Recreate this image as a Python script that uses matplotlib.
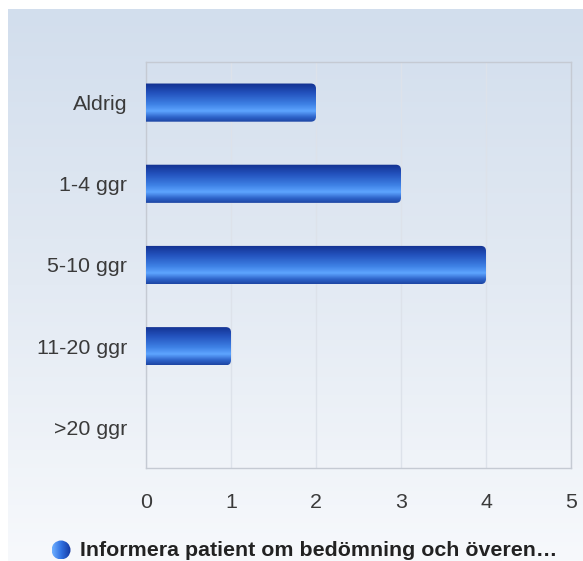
import numpy as np
import matplotlib
matplotlib.use("Agg")
import matplotlib.pyplot as plt
from matplotlib.patches import FancyBboxPatch, Circle
from matplotlib.colors import LinearSegmentedColormap

categories = ["Aldrig", "1-4 ggr", "5-10 ggr", "11-20 ggr", ">20 ggr"]
values = [2, 3, 4, 1, 0]
xticks = [0, 1, 2, 3, 4, 5]
legend_label = "Informera patient om bedömning och överen…"

plt.rcParams['font.family'] = ['Liberation Sans', 'DejaVu Sans']

W, H = 583, 561
fig = plt.figure(figsize=(W / 100, H / 100), dpi=100)

# background gradient panel
bg = fig.add_axes([0, 0, 1, 1], zorder=-10)
bg.set_xlim(0, W)
bg.set_ylim(H, 0)
bg.axis('off')
bgcmap = LinearSegmentedColormap.from_list('bg', ['#d2deed', '#e3eaf3', '#f7f9fc'])
grad = np.linspace(0, 1, 256).reshape(-1, 1)
bg.imshow(grad, cmap=bgcmap, extent=[8, W, H, 9], aspect='auto')

# legend sphere marker (gradient circle)
sphcmap = LinearSegmentedColormap.from_list('sph', ['#6fb0ff', '#2f6fe0', '#1538a0'])
hgrad = np.linspace(0, 1, 64).reshape(1, -1)
cx, cy, r = 61, 550, 9.5
sim = bg.imshow(hgrad, cmap=sphcmap, extent=[cx - r, cx + r, cy + r, cy - r],
                aspect='auto', interpolation='bilinear', zorder=2)
circ = Circle((cx, cy), r, transform=bg.transData, facecolor='none', edgecolor='none')
bg.add_patch(circ)
sim.set_clip_path(circ)
bg.set_xlim(0, W)
bg.set_ylim(H, 0)

# main axes: x 146..571, y 62..468 (pixels)
x0, x1, y0, y1 = 146, 571, 62, 468
ax = fig.add_axes([x0 / W, 1 - y1 / H, (x1 - x0) / W, (y1 - y0) / H])
ax.patch.set_alpha(0)
ax.set_xlim(0, 5)
ax.set_ylim(len(categories) - 0.5, -0.5)
ax.set_xticks(xticks)
ax.set_xticklabels([str(t) for t in xticks])
ax.set_yticks(range(len(categories)))
ax.set_yticklabels(categories)
ax.tick_params(axis='both', length=0, labelsize=15.4, colors='#3a3a3a')
ax.tick_params(axis='x', pad=18)
ax.tick_params(axis='y', pad=13.5)
for s in ax.spines.values():
    s.set_color('#c5cad3')
    s.set_linewidth(1)
ax.grid(axis='x', color='#dde2ea', linewidth=1)
ax.set_axisbelow(True)

bars = ax.barh(range(len(categories)), values, height=0.47, color='none', edgecolor='none')

barcmap = LinearSegmentedColormap.from_list(
    'bar', [(0.0, '#12308f'), (0.25, '#2352bd'), (0.55, '#3f82e6'), (0.72, '#5ea5ff'),
            (0.88, '#2d63c9'), (1.0, '#1d45a3')])
vgrad = np.linspace(0, 1, 128).reshape(-1, 1)
for b in bars:
    w = b.get_width()
    if w <= 0:
        continue
    bx, by, bh = b.get_x(), b.get_y(), b.get_height()
    im = ax.imshow(vgrad, cmap=barcmap, extent=[bx, bx + w, by + bh, by],
                   aspect='auto', zorder=3, interpolation='bilinear')
    clip = FancyBboxPatch((bx - 0.1, by), w + 0.1, bh,
                          boxstyle='round,pad=0,rounding_size=0.06',
                          mutation_aspect=85 / 81, transform=ax.transData,
                          facecolor='none', edgecolor='none')
    ax.add_patch(clip)
    im.set_clip_path(clip)
ax.set_xlim(0, 5)
ax.set_ylim(len(categories) - 0.5, -0.5)

# legend text
fig.text(80 / W, 1 - 551 / H, legend_label, fontsize=15.4, fontweight='bold',
         color='#222222', ha='left', va='center')

fig.savefig('out.png', dpi=100)
